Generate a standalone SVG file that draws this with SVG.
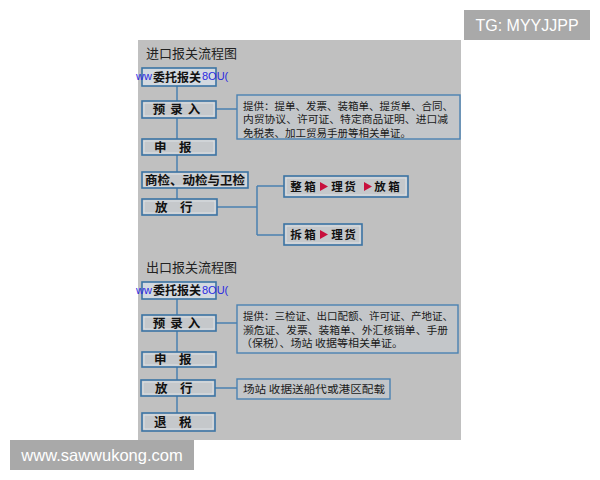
<svg xmlns="http://www.w3.org/2000/svg" width="600" height="480" viewBox="0 0 600 480">
<style>
.bg{fill:#c0c0c0}
.box{fill:#c5c8cb;stroke:#3b74a4;stroke-width:1.6}
.inner{fill:none;stroke:#e6ebef;stroke-width:0.7}
.top{fill:#d3d9e0;stroke:#3b74a4;stroke-width:1.6}
.info{fill:#c3c6c9;stroke:#4a82b2;stroke-width:1.4}
.lbl{font-family:"Noto Sans CJK SC","Noto Sans CJK JP",sans-serif;font-size:12.5px;font-weight:bold;fill:#111}
.sm{font-size:11.5px}
.wt{font-size:12px}
.ttl{font-family:"Noto Sans CJK SC","Noto Sans CJK JP",sans-serif;font-size:13px;fill:#222}
.txt{font-family:"Noto Sans CJK SC","Noto Sans CJK JP",sans-serif;font-size:10.5px;fill:#1a1a1a}
.tri{fill:#c8103e}
.wm{font-family:"Liberation Sans",Arial,sans-serif;font-size:11px;fill:#2a2ae0}
.conn{fill:none;stroke:#4a80b0;stroke-width:1.5}
.tag{font-family:"Liberation Sans",Arial,sans-serif;fill:#ffffff}
</style>
<rect x="0" y="0" width="600" height="480" fill="#ffffff"/>
<rect class="bg" x="138" y="40" width="323" height="400"/>

<g id="connectors">
  <path class="conn" d="M177 86V172M177 188V199M216 109H237M217 207H257M257 186V235M257 186H284M257 235H284"/>
  <path class="conn" d="M177 299V413M216 323H237M215 388H237"/>
</g>

<text class="ttl" x="146" y="58">进口报关流程图</text>

<g id="imp-wt">
  <rect class="top" x="142" y="68" width="74" height="18"/>
  <text class="lbl wt" x="177" y="81.5" text-anchor="middle">委托报关</text>
  <text class="wm" x="136" y="80">ww</text>
  <text class="wm" x="202" y="80">8OU(</text>
</g>
<g id="imp-ylr">
  <rect class="box" x="142" y="101" width="74" height="17"/>
  <rect class="inner" x="144" y="103" width="70" height="13"/>
  <text class="lbl" x="179" y="114" text-anchor="middle" letter-spacing="5">预录入</text>
</g>
<g id="imp-info">
  <rect class="info" x="237" y="95" width="223" height="44"/>
  <text class="txt" x="243" y="109.5" textLength="210" lengthAdjust="spacingAndGlyphs">提供：提单、发票、装箱单、提货单、合同、</text>
  <text class="txt" x="243" y="123" textLength="205" lengthAdjust="spacingAndGlyphs">内贸协议、许可证、特定商品证明、进口减</text>
  <text class="txt" x="243" y="136.5" textLength="168" lengthAdjust="spacingAndGlyphs">免税表、加工贸易手册等相关单证。</text>
</g>
<g id="imp-sb">
  <rect class="box" x="142" y="139" width="74" height="16"/>
  <rect class="inner" x="144" y="141" width="70" height="12"/>
  <text class="lbl" x="154" y="152">申　报</text>
</g>
<g id="imp-sj">
  <rect class="box" x="142" y="172" width="106" height="16"/>
  <rect class="inner" x="144" y="174" width="102" height="12"/>
  <text class="lbl" x="145" y="185" textLength="100" lengthAdjust="spacingAndGlyphs">商检、动检与卫检</text>
</g>
<g id="imp-fx">
  <rect class="box" x="142" y="199" width="75" height="16"/>
  <rect class="inner" x="144" y="201" width="71" height="12"/>
  <text class="lbl" x="155" y="212">放　行</text>
</g>
<g id="imp-zx">
  <rect class="box" x="284" y="176" width="124" height="21"/>
  <rect class="inner" x="286" y="178" width="120" height="17"/>
  <text class="lbl sm" y="190.5" text-anchor="middle"><tspan x="296">整</tspan><tspan x="310">箱</tspan><tspan x="337">理</tspan><tspan x="350">货</tspan><tspan x="380">放</tspan><tspan x="394">箱</tspan></text>
  <path class="tri" d="M320 182L328 186.5L320 191Z M364 182L372 186.5L364 191Z"/>
</g>
<g id="imp-cx">
  <rect class="box" x="284" y="224" width="78" height="21"/>
  <rect class="inner" x="286" y="226" width="74" height="17"/>
  <text class="lbl sm" y="238.5" text-anchor="middle"><tspan x="296">拆</tspan><tspan x="310">箱</tspan><tspan x="337">理</tspan><tspan x="350">货</tspan></text>
  <path class="tri" d="M320 230L328 234.5L320 239Z"/>
</g>

<text class="ttl" x="146" y="272">出口报关流程图</text>

<g id="exp-wt">
  <rect class="top" x="142" y="282" width="74" height="17"/>
  <text class="lbl wt" x="177" y="295" text-anchor="middle">委托报关</text>
  <text class="wm" x="136" y="294">ww</text>
  <text class="wm" x="202" y="294">8OU(</text>
</g>
<g id="exp-ylr">
  <rect class="box" x="142" y="315" width="74" height="16"/>
  <rect class="inner" x="144" y="317" width="70" height="12"/>
  <text class="lbl" x="179" y="328" text-anchor="middle" letter-spacing="5">预录入</text>
</g>
<g id="exp-info">
  <rect class="info" x="237" y="305" width="221" height="48"/>
  <text class="txt" x="243" y="320" textLength="210" lengthAdjust="spacingAndGlyphs">提供：三检证、出口配额、许可证、产地证、</text>
  <text class="txt" x="243" y="333.5" textLength="205" lengthAdjust="spacingAndGlyphs">濒危证、发票、装箱单、外汇核销单、手册</text>
  <text class="txt" x="241" y="347" textLength="162" lengthAdjust="spacingAndGlyphs">（保税）、场站 收据等相关单证。</text>
</g>
<g id="exp-sb">
  <rect class="box" x="142" y="352" width="74" height="15"/>
  <rect class="inner" x="144" y="354" width="70" height="11"/>
  <text class="lbl" x="154" y="364">申　报</text>
</g>
<g id="exp-fx">
  <rect class="box" x="141" y="380" width="74" height="16"/>
  <rect class="inner" x="143" y="382" width="70" height="12"/>
  <text class="lbl" x="155" y="393">放　行</text>
</g>
<g id="exp-info2">
  <rect class="info" x="237" y="379" width="153" height="20"/>
  <text class="txt" x="243" y="393" textLength="142" lengthAdjust="spacingAndGlyphs">场站 收据送船代或港区配载</text>
</g>
<g id="exp-ts">
  <rect class="box" x="142" y="413" width="73" height="18"/>
  <rect class="inner" x="144" y="415" width="69" height="14"/>
  <text class="lbl" x="154" y="427">退　税</text>
</g>

<g id="tags">
  <rect x="464" y="10" width="126" height="30" fill="#a9a9a9"/>
  <text class="tag" x="527" y="31" font-size="16" text-anchor="middle">TG: MYYJJPP</text>
  <rect x="10" y="440" width="184" height="30" fill="#a9a9a9"/>
  <text class="tag" x="102" y="461" font-size="16.5" text-anchor="middle">www.sawwukong.com</text>
</g>
</svg>
